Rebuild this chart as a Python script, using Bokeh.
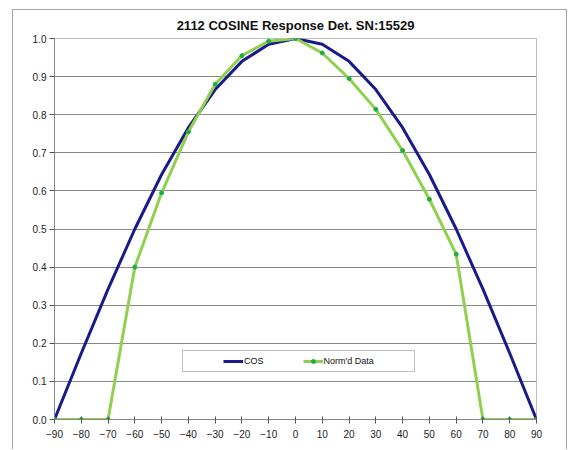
from bokeh.plotting import figure
from bokeh.models import Legend, LegendItem, FixedTicker, NumeralTickFormatter, ColumnDataSource
from bokeh.embed import file_html
from bokeh.resources import INLINE

# ---- data ----
angles = [-90, -80, -70, -60, -50, -40, -30, -20, -10, 0, 10, 20, 30, 40, 50, 60, 70, 80, 90]
cos_vals = [0.0, 0.174, 0.342, 0.5, 0.643, 0.766, 0.866, 0.940, 0.985, 1.0,
            0.985, 0.940, 0.866, 0.766, 0.643, 0.5, 0.342, 0.174, 0.0]
normd_vals = [0.0, 0.0, 0.0, 0.400, 0.595, 0.755, 0.880, 0.955, 0.993, 1.0,
              0.962, 0.895, 0.814, 0.706, 0.578, 0.434, 0.0, 0.0, 0.0]
x_ticks = [-90, -80, -70, -60, -50, -40, -30, -20, -10, 0, 10, 20, 30, 40, 50, 60, 70, 80, 90]
y_ticks = [0.0, 0.1, 0.2, 0.3, 0.4, 0.5, 0.6, 0.7, 0.8, 0.9, 1.0]
title_text = "2112 COSINE Response Det. SN:15529"
series_names = ["COS", "Norm'd Data"]

FONT = "Liberation Sans"

src = ColumnDataSource(dict(x=angles, cos=cos_vals, normd=normd_vals))

p = figure(width=555, height=440, x_range=(-90, 90), y_range=(0, 1),
           output_backend="svg", toolbar_location=None,
           min_border_left=41, min_border_right=32, min_border_top=26, min_border_bottom=31,
           margin=(9, 0, 0, 12))
p.styles = {"border-top": "1px solid #a6a6a6", "border-left": "1px solid #a6a6a6",
            "border-right": "1px solid #a6a6a6"}

p.title.text = title_text
p.title.text_font = FONT
p.title.text_font_size = "13px"
p.title.text_font_style = "bold"
p.title.align = "center"
p.title.offset = -12
p.title.standoff = 11
p.title.text_color = "#111111"

p.outline_line_color = "#bdbdbd"
p.background_fill_color = "white"
p.border_fill_color = "white"

p.xgrid.visible = False
p.ygrid.grid_line_color = "#8a8a8a"
p.ygrid.grid_line_width = 1
p.ygrid.ticker = FixedTicker(ticks=y_ticks)

for ax in (p.xaxis[0], p.yaxis[0]):
    ax.axis_line_color = "#8a8a8a"
    ax.major_tick_line_color = "#555555"
    ax.minor_tick_line_color = None
    ax.major_label_text_font = FONT
    ax.major_label_text_font_size = "10px"
    ax.major_label_text_color = "#222222"

p.xaxis.ticker = FixedTicker(ticks=x_ticks)
p.xaxis.major_tick_in = 3
p.xaxis.major_tick_out = 4
p.xaxis.major_label_standoff = 6

p.yaxis.ticker = FixedTicker(ticks=y_ticks)
p.yaxis.formatter = NumeralTickFormatter(format="0.0")
p.yaxis.major_tick_in = 0
p.yaxis.major_tick_out = 5
p.yaxis.major_label_standoff = 3

r_cos = p.line("x", "cos", source=src, line_color="#1a1a8a", line_width=3)
r_nl = p.line("x", "normd", source=src, line_color="#8fd14f", line_width=3)
r_np = p.scatter("x", "normd", source=src, size=4, marker="circle",
                 fill_color="#1fae45", line_color="#1fae45")
dummy = p.line([], [], line_alpha=0)

items = [
    LegendItem(label=" ", renderers=[dummy]),
    LegendItem(label=series_names[0], renderers=[r_cos]),
    LegendItem(label=" ", renderers=[dummy]),
    LegendItem(label=series_names[1], renderers=[r_nl, r_np]),
    LegendItem(label=" ", renderers=[dummy]),
]
legend = Legend(items=items, orientation="horizontal", location=(128, 47),
                padding=5, spacing=4, label_width=10, label_standoff=1,
                glyph_width=20, glyph_height=10, label_height=10,
                label_text_font=FONT, label_text_font_size="9px",
                label_text_color="#111111",
                border_line_color="#808080", background_fill_color="white",
                background_fill_alpha=1, margin=0)
p.add_layout(legend)

open("out.html", "w").write(file_html(p, INLINE))
